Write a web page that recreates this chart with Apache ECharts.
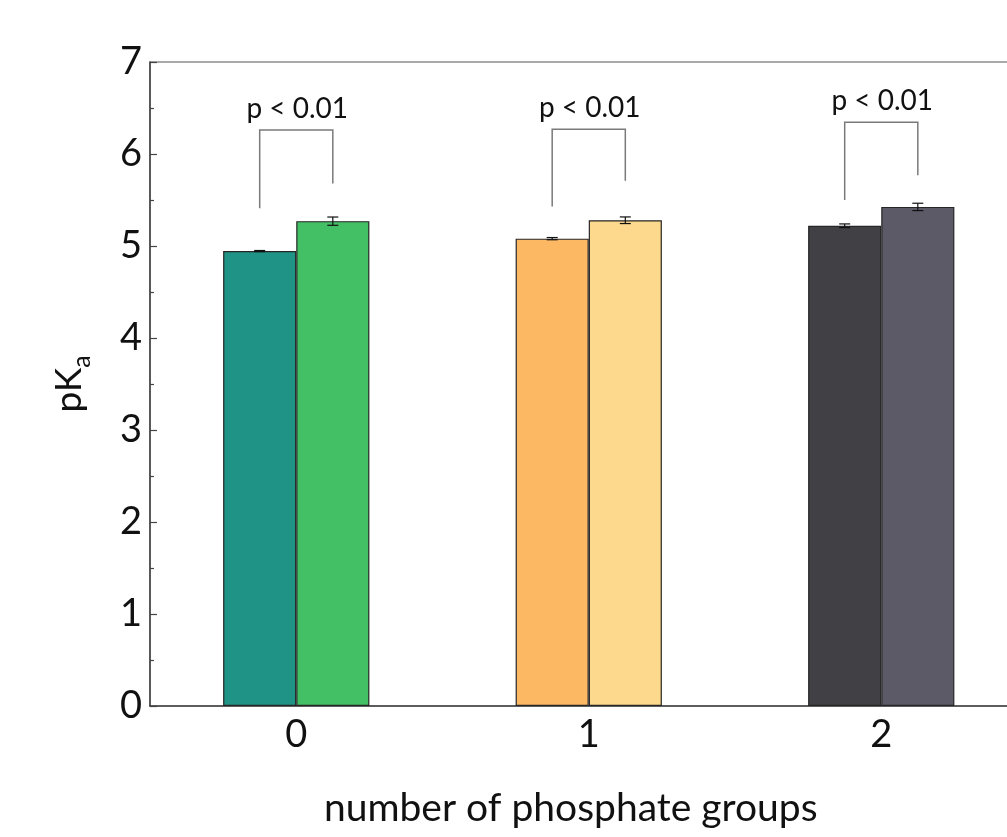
<!DOCTYPE html>
<html>
<head>
<meta charset="utf-8">
<style>
  html, body { margin: 0; padding: 0; background: #ffffff; }
  #chart { width: 1007px; height: 837px; }
</style>
<script src="https://cdn.jsdelivr.net/npm/echarts@6/dist/echarts.min.js"></script>
</head>
<body>
<div id="chart"></div>
<script>
// pKa per number of phosphate groups: two measurements per group
const categories = ['0', '1', '2'];
const pkaFirst = [4.945, 5.08, 5.22];
const pkaSecond = [5.27, 5.28, 5.425];
const errFirst = [0.006, 0.012, 0.02];
const errSecond = [0.045, 0.036, 0.04];
const colorsFirst = ['#1f9385', '#fdb863', '#414045'];
const colorsSecond = ['#43c066', '#fcd98c', '#5c5a67'];

// significance brackets (pKa units): top of bracket, end of left leg, end of right leg
const pLabels = ['p < 0.01', 'p < 0.01', 'p < 0.01'];
const bracketTop = [6.26, 6.27, 6.345];
const bracketLeftEnd = [5.41, 5.43, 5.50];
const bracketRightEnd = [5.68, 5.71, 5.77];

const FONT = 'Lato';
const chart = echarts.init(document.getElementById('chart'));

const errorData = [];
categories.forEach((c, i) => {
  errorData.push([i, pkaFirst[i], errFirst[i], -1]);
  errorData.push([i, pkaSecond[i], errSecond[i], 1]);
});
const bracketData = categories.map((c, i) => [i, bracketTop[i], bracketLeftEnd[i], bracketRightEnd[i]]);

function renderError(params, api) {
  const i = api.value(0), v = api.value(1), e = api.value(2), side = api.value(3);
  const band = api.size([1, 0])[0];
  const c = api.coord([i, v]);
  const x = c[0] + side * band / 8;
  const yHi = api.coord([i, v + e])[1];
  const yLo = api.coord([i, v - e])[1];
  const cap = 5.5;
  const style = { stroke: '#111', lineWidth: 1.2 };
  return {
    type: 'group',
    children: [
      { type: 'line', shape: { x1: x, y1: yHi, x2: x, y2: yLo }, style },
      { type: 'line', shape: { x1: x - cap, y1: yHi, x2: x + cap, y2: yHi }, style },
      { type: 'line', shape: { x1: x - cap, y1: yLo, x2: x + cap, y2: yLo }, style }
    ]
  };
}

function renderBracket(params, api) {
  const i = api.value(0);
  const band = api.size([1, 0])[0];
  const cx = api.coord([i, 0])[0];
  const xl = cx - band / 8, xr = cx + band / 8;
  const yTop = api.coord([i, api.value(1)])[1];
  const yL = api.coord([i, api.value(2)])[1];
  const yR = api.coord([i, api.value(3)])[1];
  return {
    type: 'group',
    children: [
      {
        type: 'polyline',
        shape: { points: [[xl, yL], [xl, yTop], [xr, yTop], [xr, yR]] },
        style: { stroke: '#7a7a7a', lineWidth: 1.5, fill: null }
      },
      {
        type: 'text',
        x: cx + 1, y: yTop - 7,
        style: {
          text: pLabels[params.dataIndex],
          font: '28px ' + FONT,
          fill: '#111',
          align: 'center',
          verticalAlign: 'bottom'
        }
      }
    ]
  };
}

chart.setOption({
  backgroundColor: '#ffffff',
  animation: false,
  grid: {
    left: 150, top: 62, width: 877.5, height: 644,
    outerBoundsMode: 'none',
    show: true, borderColor: '#555', borderWidth: 1.2, backgroundColor: 'transparent'
  },
  xAxis: {
    type: 'category',
    data: categories,
    axisLine: { lineStyle: { color: '#444', width: 1.5 } },
    axisTick: { show: false },
    axisLabel: { color: '#111', fontFamily: FONT, fontSize: 38, margin: 10 },
    name: 'number of phosphate groups',
    nameLocation: 'middle',
    nameGap: 83,
    nameTextStyle: { color: '#111', fontFamily: FONT, fontSize: 39, padding: [0, 36, 0, 0] }
  },
  yAxis: {
    type: 'value',
    min: 0, max: 7, interval: 1,
    axisLine: { show: true, lineStyle: { color: '#444', width: 1.5 } },
    axisTick: { show: true, inside: true, length: 7, lineStyle: { color: '#444', width: 1.2 } },
    minorTick: { show: true, splitNumber: 2, length: 4, lineStyle: { color: '#444', width: 1.2 } },
    splitLine: { show: false },
    axisLabel: { color: '#111', fontFamily: FONT, fontSize: 38, margin: 8 },
    name: '{n|pK}{s|a}',
    nameLocation: 'middle',
    nameRotate: 90,
    nameGap: 56,
    nameTextStyle: {
      rich: {
        n: { fontFamily: FONT, fontSize: 37, color: '#111', lineHeight: 50 },
        s: { fontFamily: FONT, fontSize: 25, color: '#111', verticalAlign: 'bottom', lineHeight: 24 }
      }
    }
  },
  series: [
    {
      type: 'bar',
      barWidth: '25%',
      barGap: '0%',
      data: pkaFirst.map((v, i) => ({
        value: v,
        itemStyle: { color: colorsFirst[i], borderColor: '#262626', borderWidth: 1.2 }
      }))
    },
    {
      type: 'bar',
      barWidth: '25%',
      barGap: '0%',
      data: pkaSecond.map((v, i) => ({
        value: v,
        itemStyle: { color: colorsSecond[i], borderColor: '#262626', borderWidth: 1.2 }
      }))
    },
    {
      type: 'custom',
      renderItem: renderError,
      data: errorData,
      z: 5,
      silent: true
    },
    {
      type: 'custom',
      renderItem: renderBracket,
      data: bracketData,
      z: 5,
      silent: true
    }
  ]
});
</script>
</body>
</html>
